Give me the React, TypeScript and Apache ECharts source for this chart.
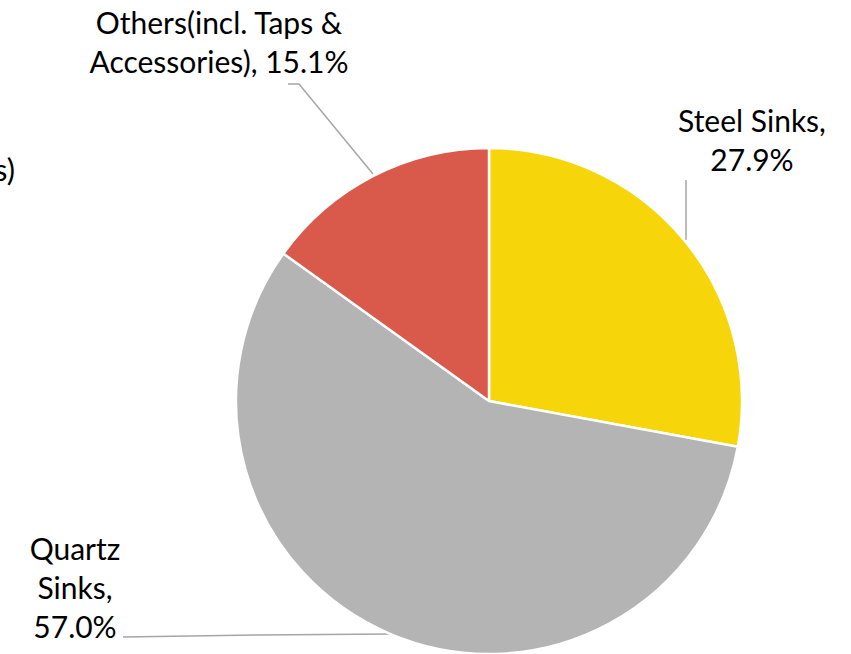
import React, { useEffect, useRef } from "react";
import * as echarts from "echarts";

const categories = ["Steel Sinks", "Quartz Sinks", "Others(incl. Taps & Accessories)"];
const shares = [27.9, 57.0, 15.1];
const labelTexts = ["Steel Sinks,\n27.9%", "Quartz\nSinks,\n57.0%", "Others(incl. Taps &\nAccessories), 15.1%"];
const colors = ["#F6D50B", "#B4B4B4", "#D9594A"];

export default function App() {
  const ref = useRef<HTMLDivElement>(null);
  useEffect(() => {
    const chart = echarts.init(ref.current!, null, { renderer: "svg" });
    const labelPos = [
      { x: 752, y: 139, line: [[686, 240], [686, 210], [686, 180]] },
      { x: 75, y: 587, line: [[390, 634], [257, 635], [123, 637]] },
      { x: 219, y: 41, line: [[373, 174], [299, 84], [288, 84]] },
    ];
    chart.setOption({
      animation: false,
      graphic: [
        {
          type: "text",
          right: 836,
          top: 153,
          style: { text: "s)", font: "31px Lato", fill: "#000" },
        },
      ],
      series: [
        {
          type: "pie",
          center: [489, 401],
          radius: 253,
          startAngle: 90,
          clockwise: true,
          itemStyle: { borderColor: "#fff", borderWidth: 2.5 },
          label: {
            show: true,
            formatter: (p: any) => labelTexts[p.dataIndex],
            fontFamily: "Lato",
            fontSize: 30,
            lineHeight: 39,
            color: "#000",
            align: "center",
            overflow: "none",
            width: 400,
          },
          labelLine: { show: true, lineStyle: { color: "#A6A6A6", width: 1.5 } },
          labelLayout: (params: any) => {
            const lp = labelPos[params.dataIndex];
            return {
              x: lp.x,
              y: lp.y,
              align: "center",
              verticalAlign: "middle",
              labelLinePoints: lp.line,
            };
          },
          data: categories.map((name, i) => ({
            name,
            value: shares[i],
            itemStyle: { color: colors[i] },
          })),
        },
      ],
    });
    return () => chart.dispose();
  }, []);
  return (
    <div
      ref={ref}
      style={{ position: "fixed", left: 0, top: 0, width: 851, height: 654, background: "#fff" }}
    />
  );
}
